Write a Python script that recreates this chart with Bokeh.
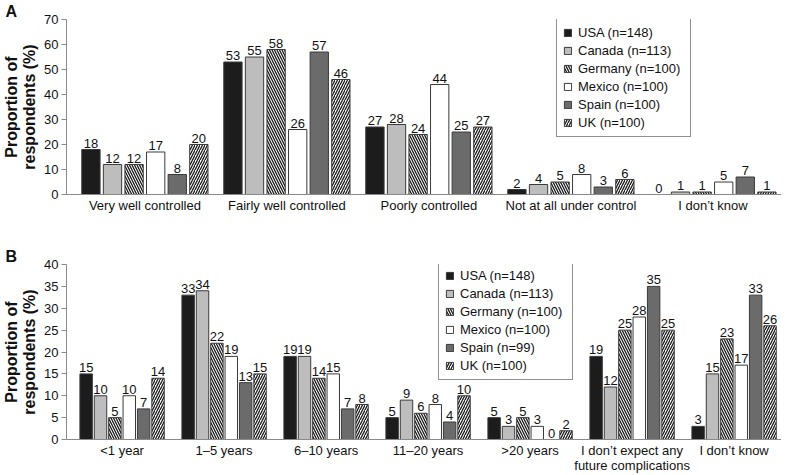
from bokeh.plotting import figure
from bokeh.layouts import column
from bokeh.models import Range1d, FixedTicker, Legend, LegendItem, Title
from bokeh.core.properties import value
from bokeh.embed import file_html
from bokeh.resources import INLINE

# panel A: how well controlled
control_categories = ["Very well controlled", "Fairly well controlled", "Poorly controlled",
                      "Not at all under control", "I don\u2019t know"]
control_usa = [18, 53, 27, 2, 0]
control_canada = [12, 55, 28, 4, 1]
control_germany = [12, 58, 24, 5, 1]
control_mexico = [17, 26, 44, 8, 5]
control_spain = [8, 57, 25, 3, 7]
control_uk = [20, 46, 27, 6, 1]
control_countries = ["USA (n=148)", "Canada (n=113)", "Germany (n=100)",
                     "Mexico (n=100)", "Spain (n=100)", "UK (n=100)"]

# panel B: time to complications
compl_categories = ["<1 year", "1\u20135 years", "6\u201310 years", "11\u201320 years", ">20 years",
                    "I don\u2019t expect any\nfuture complications", "I don\u2019t know"]
compl_usa = [15, 33, 19, 5, 5, 19, 3]
compl_canada = [10, 34, 19, 9, 3, 12, 15]
compl_germany = [5, 22, 14, 6, 5, 25, 23]
compl_mexico = [10, 19, 15, 8, 3, 28, 17]
compl_spain = [7, 13, 7, 4, 0, 35, 33]
compl_uk = [14, 15, 8, 10, 2, 25, 26]
compl_countries = ["USA (n=148)", "Canada (n=113)", "Germany (n=100)",
                   "Mexico (n=100)", "Spain (n=99)", "UK (n=100)"]

FONT = "Liberation Sans"
LEFT = 61
styles = [
    dict(fill_color="#1c1c1c", hatch_pattern=None),
    dict(fill_color="#bdbdbd", hatch_pattern=None),
    dict(fill_color="white", hatch_pattern="\\"),
    dict(fill_color="white", hatch_pattern=None),
    dict(fill_color="#6b6b6b", hatch_pattern=None),
    dict(fill_color="white", hatch_pattern="/"),
]


def make_panel(letter, categories, series, countries, y_max, y_step, height,
               top, bottom, step, bar_w, x_start, x_end, legend_loc):
    n = len(categories)
    p = figure(width=781, height=height, output_backend="svg", toolbar_location=None,
               x_range=Range1d(x_start, x_end), y_range=Range1d(0, y_max),
               min_border_left=LEFT, min_border_right=0, min_border_top=top,
               min_border_bottom=bottom)
    p.outline_line_color = None
    p.grid.grid_line_color = None

    t = Title(text=letter, align="left", offset=-LEFT, standoff=0,
              text_font=FONT, text_font_size="16px", text_font_style="bold",
              text_color="#111111")
    p.add_layout(t, "above")

    items = []
    for j, (vals, name, st) in enumerate(zip(series, countries, styles)):
        xs = [i + (j - 2.5) * step for i in range(n)]
        r = p.vbar(x=xs, top=vals, width=bar_w, bottom=0, fill_color=st["fill_color"],
                   line_color="#3a3a3a", line_width=1,
                   hatch_pattern=st["hatch_pattern"], hatch_color="#1a1a1a",
                   hatch_scale=5, hatch_weight=1.3)
        p.text(x=xs, y=vals, text=[str(v) for v in vals], text_align="center",
               text_baseline="bottom", y_offset=-2, text_font_size="13px",
               text_font=value(FONT), text_color="#111111")
        items.append(LegendItem(label=name, renderers=[r]))

    legend = Legend(items=items, location=legend_loc, label_text_font=FONT,
                    label_text_font_size="13px", label_text_color="#111111",
                    glyph_width=9, glyph_height=9, label_height=15, label_width=106,
                    label_standoff=6, spacing=3, padding=6, margin=0,
                    border_line_color="#222222", border_line_width=1,
                    background_fill_alpha=1)
    p.add_layout(legend, "center")

    xa = p.xaxis[0]
    xa.ticker = FixedTicker(ticks=list(range(n)))
    xa.major_label_overrides = {i: c for i, c in enumerate(categories)}
    xa.major_tick_out = 0
    xa.major_tick_in = 0
    xa.minor_tick_out = 0
    xa.minor_tick_in = 0
    xa.axis_line_color = "#8a8a8a"
    xa.major_label_standoff = 3
    xa.major_label_text_font = FONT
    xa.major_label_text_font_size = "13px"
    xa.major_label_text_line_height = 1.0
    xa.major_label_text_color = "#111111"

    ya = p.yaxis[0]
    ya.ticker = FixedTicker(ticks=list(range(0, y_max + 1, y_step)))
    ya.axis_line_color = "#8a8a8a"
    ya.major_tick_line_color = "#8a8a8a"
    ya.major_tick_out = 5
    ya.major_tick_in = 0
    ya.minor_tick_out = 0
    ya.minor_tick_in = 0
    ya.major_label_standoff = 3
    ya.major_label_text_font = FONT
    ya.major_label_text_font_size = "13px"
    ya.major_label_text_color = "#111111"
    ya.axis_label = "Proportion of\nrespondents (%)"
    ya.axis_label_text_font = FONT
    ya.axis_label_text_font_size = "16px"
    ya.axis_label_text_font_style = "bold"
    ya.axis_label_text_line_height = 1.05
    ya.axis_label_text_color = "#111111"
    ya.axis_label_standoff = 3
    return p


pa = make_panel("A", control_categories,
                [control_usa, control_canada, control_germany, control_mexico,
                 control_spain, control_uk],
                control_countries, 70, 10, 225, 19, 31, 0.152, 0.129, -0.552, 4.483,
                (490, 57))
pb = make_panel("B", compl_categories,
                [compl_usa, compl_canada, compl_germany, compl_mexico,
                 compl_spain, compl_uk],
                compl_countries, 40, 5, 250, 39, 34, 0.141, 0.122, -0.545, 6.465,
                (372, 59))

layout = column(pa, pb, spacing=0)
open("out.html", "w").write(file_html(layout, INLINE))
